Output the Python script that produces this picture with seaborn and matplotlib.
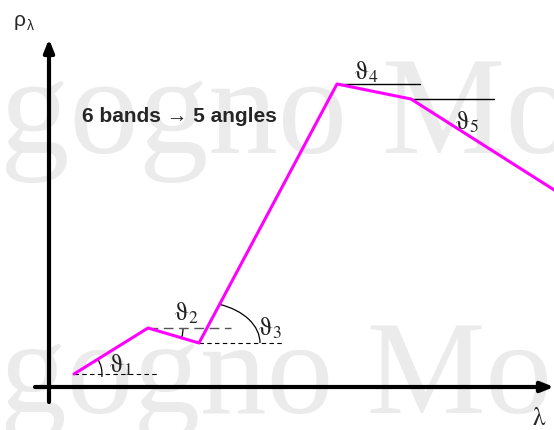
import numpy as np
import matplotlib
matplotlib.use('Agg')
import matplotlib.pyplot as plt
from matplotlib.patches import Arc
import seaborn as sns

# schematic spectrum: 6 bands (x = wavelength position, y = reflectance), pixel-like units
band = [74, 148, 199, 337, 411, 570]
rho = [56, 102, 87, 346, 331, 230]
angle_labels = [r'$\mathrm{\vartheta}_1$', r'$\mathrm{\vartheta}_2$', r'$\mathrm{\vartheta}_3$',
                r'$\mathrm{\vartheta}_4$', r'$\mathrm{\vartheta}_5$']
title_text = '6 bands \u2192 5 angles'
watermark = 'gogno Mo'

sns.set_style('white')
plt.rcParams['mathtext.fontset'] = 'stix'

fig = plt.figure(figsize=(5.54, 4.30), dpi=100)
ax = fig.add_axes([0, 0, 1, 1])
ax.set_xlim(0, 554)
ax.set_ylim(0, 430)
ax.axis('off')

# watermark in the background
ax.text(0, 277, watermark, fontsize=100, family='Liberation Serif', color='#ebebeb', va='baseline', zorder=0)
ax.text(0, 17, watermark, fontsize=96, family='Liberation Serif', color='#ebebeb', va='baseline', zorder=0)

# axes with arrows
arrow = dict(arrowstyle='-|>,head_length=0.75,head_width=0.3', lw=3, color='black',
             mutation_scale=10, shrinkA=0, shrinkB=0)
ax.annotate('', xy=(554, 43), xytext=(35, 43), arrowprops=arrow, zorder=3)
ax.annotate('', xy=(49, 391), xytext=(49, 28), arrowprops=arrow, zorder=3)

# spectrum
sns.lineplot(x=band, y=rho, color='#ff00ff', lw=2.2, ax=ax, zorder=4)

# horizontal reference lines
ref_len = 83
styles = [dict(color='black', lw=0.8, ls=(0, (4, 3))),
          dict(color='#555555', lw=1.0, ls=(0, (7, 4))),
          dict(color='black', lw=0.8, ls=(0, (4, 3))),
          dict(color='black', lw=1.0, ls='-'),
          dict(color='black', lw=1.0, ls='-')]
for i in range(5):
    ax.plot([band[i], band[i] + ref_len], [rho[i], rho[i]], zorder=2, **styles[i])

# angle arcs
seg = [np.degrees(np.arctan2(rho[i + 1] - rho[i], band[i + 1] - band[i])) for i in range(5)]
ax.add_patch(Arc((band[0], rho[0]), 56, 56, theta1=-6, theta2=seg[0], color='black', lw=0.9))
ax.add_patch(Arc((band[1], rho[1]), 70, 70, theta1=seg[1], theta2=0, color='black', lw=0.9))
ax.add_patch(Arc((band[2], rho[2]), 122, 82, theta1=0, theta2=seg[2], color='black', lw=0.9))

# angle labels
label_pos = [(121, 65), (186, 117), (270, 102), (366, 358), (467, 308)]
for (x, y), t in zip(label_pos, angle_labels):
    ax.text(x, y, t, fontsize=18, color='#222222', ha='center', va='center')

ax.text(82, 314, title_text, fontsize=15, fontweight='bold', family=['Liberation Sans', 'DejaVu Sans'],
        va='center', ha='left')

# axis labels
ax.text(14, 404, '\u03c1', fontsize=15, family='Liberation Sans', va='baseline')
ax.text(27, 400, '\u03bb', fontsize=10, family='Liberation Sans', va='baseline')
ax.text(539, 12, r'$\mathrm{\lambda}$', fontsize=18, ha='center', va='center')

fig.savefig('out.png', dpi=100)
